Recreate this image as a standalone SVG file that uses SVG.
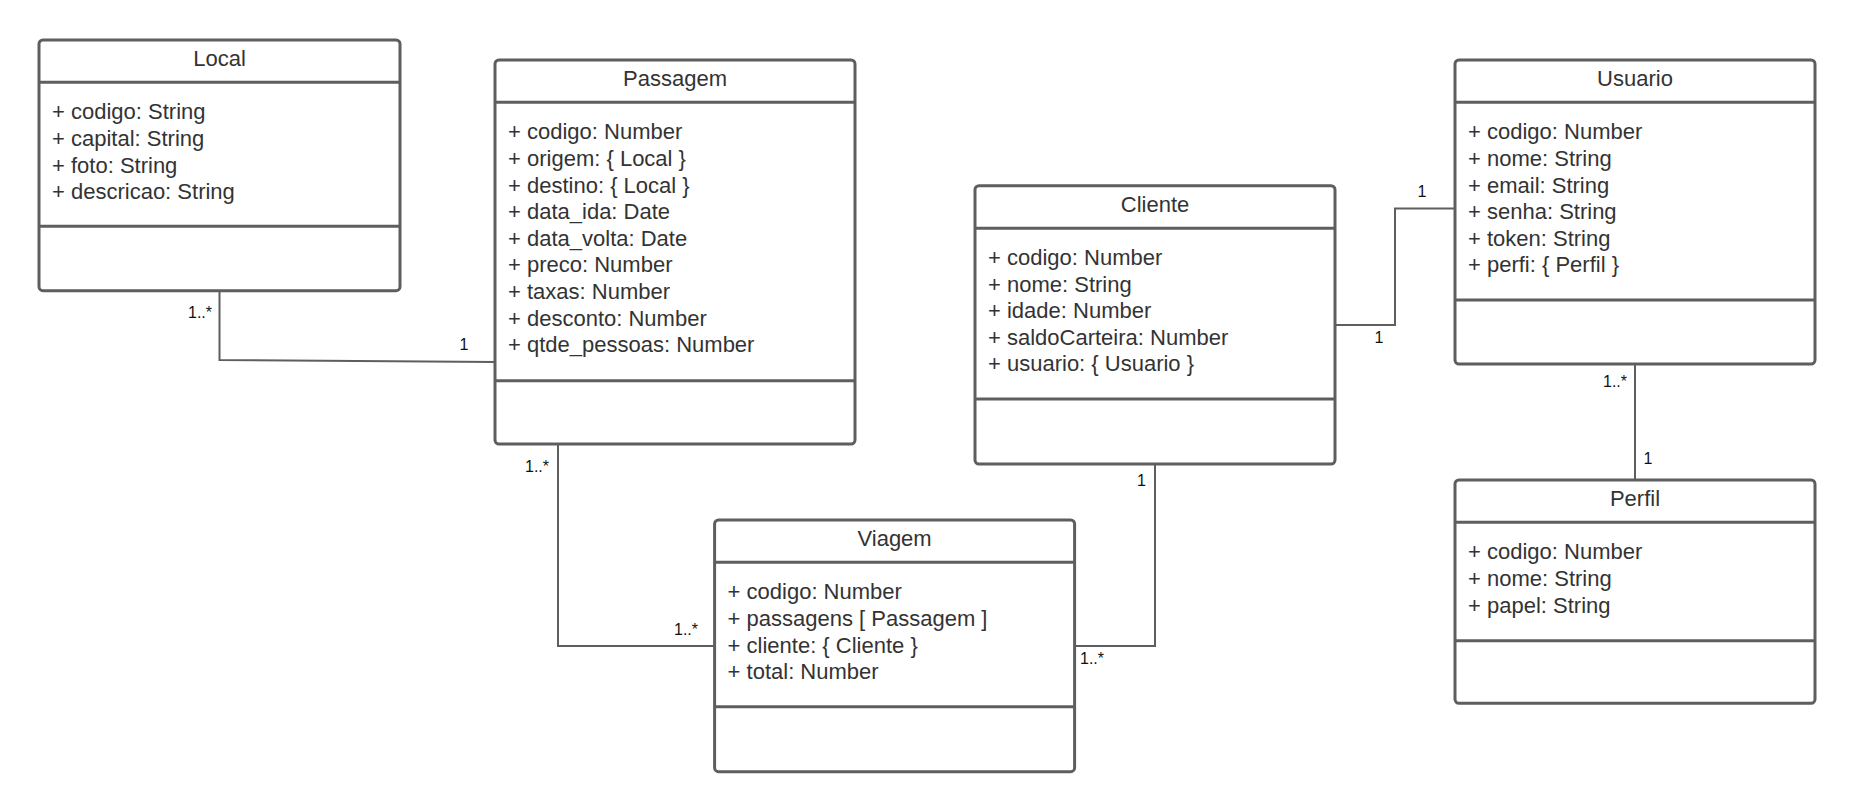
<svg xmlns="http://www.w3.org/2000/svg" width="1855" height="811" viewBox="0 0 1855 811">
<style>
.box{fill:#ffffff;stroke:#5e5e5e;stroke-width:3}
.div{stroke:#5e5e5e;stroke-width:3}
.title{font-family:"Liberation Sans",Arial,sans-serif;font-size:22px;fill:#333333;text-anchor:middle}
.attr{font-family:"Liberation Sans",Arial,sans-serif;font-size:22px;fill:#333333}
.conn{fill:none;stroke:#5e5e5e;stroke-width:2}
.lbl{font-family:"Liberation Sans",Arial,sans-serif;font-size:16px;fill:#111111}
</style>
<rect width="1855" height="811" fill="#ffffff"/>
<g id="connectors">
<polyline class="conn" points="219.5,291 219.5,360 495,362"/>
<polyline class="conn" points="558,444 558,646 715,646"/>
<polyline class="conn" points="1155,464 1155,646 1074,646"/>
<polyline class="conn" points="1334,325 1395,325 1395,208.5 1455,208.5"/>
<polyline class="conn" points="1635,364 1635,480"/>
<text class="lbl" x="212" y="318" text-anchor="end">1..*</text>
<text class="lbl" x="464" y="350" text-anchor="middle">1</text>
<text class="lbl" x="549" y="472" text-anchor="end">1..*</text>
<text class="lbl" x="698" y="635" text-anchor="end">1..*</text>
<text class="lbl" x="1146" y="486" text-anchor="end">1</text>
<text class="lbl" x="1080" y="664">1..*</text>
<text class="lbl" x="1422" y="197" text-anchor="middle">1</text>
<text class="lbl" x="1379" y="343" text-anchor="middle">1</text>
<text class="lbl" x="1627" y="387" text-anchor="end">1..*</text>
<text class="lbl" x="1648" y="464" text-anchor="middle">1</text>
</g>
<g id="Local">
<rect class="box" x="39" y="40" width="361" height="250.7" rx="4"/>
<line class="div" x1="39" y1="82.3" x2="400" y2="82.3"/>
<line class="div" x1="39" y1="226.3" x2="400" y2="226.3"/>
<text class="title" x="219.5" y="65.7">Local</text>
<text class="attr" x="52" y="119.3">+ codigo: String</text>
<text class="attr" x="52" y="145.9">+ capital: String</text>
<text class="attr" x="52" y="172.5">+ foto: String</text>
<text class="attr" x="52" y="199.1">+ descricao: String</text>
</g>
<g id="Passagem">
<rect class="box" x="495" y="60" width="360" height="384" rx="4"/>
<line class="div" x1="495" y1="102.3" x2="855" y2="102.3"/>
<line class="div" x1="495" y1="380.7" x2="855" y2="380.7"/>
<text class="title" x="675" y="85.7">Passagem</text>
<text class="attr" x="508" y="139.3">+ codigo: Number</text>
<text class="attr" x="508" y="165.9">+ origem: { Local }</text>
<text class="attr" x="508" y="192.5">+ destino: { Local }</text>
<text class="attr" x="508" y="219.1">+ data_ida: Date</text>
<text class="attr" x="508" y="245.7">+ data_volta: Date</text>
<text class="attr" x="508" y="272.3">+ preco: Number</text>
<text class="attr" x="508" y="298.9">+ taxas: Number</text>
<text class="attr" x="508" y="325.5">+ desconto: Number</text>
<text class="attr" x="508" y="352.1">+ qtde_pessoas: Number</text>
</g>
<g id="Cliente">
<rect class="box" x="975" y="185.7" width="360" height="278.3" rx="4"/>
<line class="div" x1="975" y1="228.3" x2="1335" y2="228.3"/>
<line class="div" x1="975" y1="399" x2="1335" y2="399"/>
<text class="title" x="1155" y="212.3">Cliente</text>
<text class="attr" x="988" y="265">+ codigo: Number</text>
<text class="attr" x="988" y="291.6">+ nome: String</text>
<text class="attr" x="988" y="318.2">+ idade: Number</text>
<text class="attr" x="988" y="344.8">+ saldoCarteira: Number</text>
<text class="attr" x="988" y="371.4">+ usuario: { Usuario }</text>
</g>
<g id="Usuario">
<rect class="box" x="1455" y="60" width="360" height="304" rx="4"/>
<line class="div" x1="1455" y1="102.3" x2="1815" y2="102.3"/>
<line class="div" x1="1455" y1="300" x2="1815" y2="300"/>
<text class="title" x="1635" y="85.7">Usuario</text>
<text class="attr" x="1468" y="139.3">+ codigo: Number</text>
<text class="attr" x="1468" y="165.9">+ nome: String</text>
<text class="attr" x="1468" y="192.5">+ email: String</text>
<text class="attr" x="1468" y="219.1">+ senha: String</text>
<text class="attr" x="1468" y="245.7">+ token: String</text>
<text class="attr" x="1468" y="272.3">+ perfi: { Perfil }</text>
</g>
<g id="Perfil">
<rect class="box" x="1455" y="480" width="360" height="223.3" rx="4"/>
<line class="div" x1="1455" y1="522.3" x2="1815" y2="522.3"/>
<line class="div" x1="1455" y1="640.7" x2="1815" y2="640.7"/>
<text class="title" x="1635" y="506">Perfil</text>
<text class="attr" x="1468" y="559.3">+ codigo: Number</text>
<text class="attr" x="1468" y="585.9">+ nome: String</text>
<text class="attr" x="1468" y="612.5">+ papel: String</text>
</g>
<g id="Viagem">
<rect class="box" x="714.6" y="520" width="360" height="251.7" rx="4"/>
<line class="div" x1="714.6" y1="562.3" x2="1074.6" y2="562.3"/>
<line class="div" x1="714.6" y1="706.7" x2="1074.6" y2="706.7"/>
<text class="title" x="894.6" y="546">Viagem</text>
<text class="attr" x="727.6" y="599.3">+ codigo: Number</text>
<text class="attr" x="727.6" y="625.9">+ passagens [ Passagem ]</text>
<text class="attr" x="727.6" y="652.5">+ cliente: { Cliente }</text>
<text class="attr" x="727.6" y="679.1">+ total: Number</text>
</g>
</svg>
